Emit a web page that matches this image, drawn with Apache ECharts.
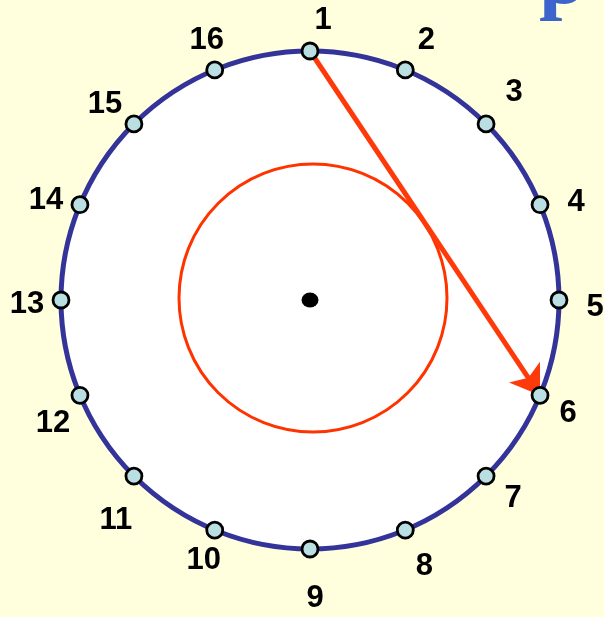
<!DOCTYPE html>
<html>
<head>
<meta charset="utf-8">
<script src="https://cdn.jsdelivr.net/npm/echarts@6/dist/echarts.min.js"></script>
<style>
  html, body { margin: 0; padding: 0; background: #ffffde; }
  #chart { width: 604px; height: 617px; }
</style>
</head>
<body>
<div id="chart"></div>
<script>
// 16 points on the circle, numbered clockwise from the top
const pointLabels = ['1','2','3','4','5','6','7','8','9','10','11','12','13','14','15','16']
const pointAngles = [0, 22.5, 45, 67.5, 90, 112.5, 135, 157.5, 180, 202.5, 225, 247.5, 270, 292.5, 315, 337.5]
// the arrow goes from point 1 to point 6
const arrowFrom = '1'
const arrowTo = '6'
const innerRatio = 0.54

// label placement around each point (px)
const labelOffsets = [
  [13, -31], [21, -30], [28, -31], [36, -2], [36, 7], [28, 18], [27, 22], [19, 36],
  [5, 49], [-11, 30], [-18, 44], [-27, 28], [-34, 4], [-34, -4], [-29, -19], [-8, -30]
]

const cx = 310, cy = 300, R = 249

const toXY = (label) => {
  const a = pointAngles[pointLabels.indexOf(label)] * Math.PI / 180
  return [Math.sin(a), Math.cos(a)]
}

const chart = echarts.init(document.getElementById('chart'))

const hiddenAngle = (idx, color, width) => ({
  polarIndex: idx,
  type: 'value',
  min: 0,
  max: 360,
  startAngle: 90,
  clockwise: true,
  z: 3,
  axisLine: { show: true, lineStyle: { color, width } },
  axisTick: { show: false },
  axisLabel: { show: false },
  splitLine: { show: false },
})

const hiddenRadius = (idx, fill) => ({
  polarIndex: idx,
  type: 'value',
  min: 0,
  max: 1,
  interval: 1,
  z: 1,
  axisLine: { show: false },
  axisTick: { show: false },
  axisLabel: { show: false },
  splitLine: { show: false },
  splitArea: { show: fill, areaStyle: { color: ['#ffffff', '#ffffff'] } },
})

const option = {
  backgroundColor: '#ffffde',
  animation: false,
  polar: [
    { center: [cx, cy], radius: R },
    { center: [cx + 3, cy - 2], radius: Math.round(R * innerRatio) },
  ],
  angleAxis: [hiddenAngle(0, '#333399', 5), hiddenAngle(1, '#ff3300', 3)],
  radiusAxis: [hiddenRadius(0, true), hiddenRadius(1, false)],
  grid: { left: cx - R, top: cy - R, width: 2 * R, height: 2 * R },
  xAxis: { type: 'value', min: -1, max: 1, show: false },
  yAxis: { type: 'value', min: -1, max: 1, show: false },
  graphic: [
    {
      type: 'text',
      left: 539,
      top: -61,
      style: {
        text: 'p',
        font: 'bold 84px "Liberation Serif", serif',
        fill: '#3c64cc',
      },
    },
  ],
  series: [
    {
      type: 'lines',
      coordinateSystem: 'cartesian2d',
      z: 4,
      symbol: ['none', 'arrow'],
      symbolSize: [22, 28],
      lineStyle: { color: '#ff3a0a', width: 5, opacity: 1 },
      data: [{ coords: [toXY(arrowFrom), toXY(arrowTo)] }],
    },
    {
      type: 'scatter',
      coordinateSystem: 'polar',
      polarIndex: 0,
      z: 5,
      symbol: 'circle',
      symbolSize: 16,
      itemStyle: { color: '#b9dfe3', borderColor: '#000000', borderWidth: 2.8, opacity: 1 },
      label: {
        show: true,
        position: 'inside',
        formatter: (p) => p.name,
        color: '#000000',
        fontFamily: '"Liberation Sans", Arial, sans-serif',
        fontWeight: 'bold',
        fontSize: 31,
      },
      data: pointLabels.map((name, i) => ({
        name,
        value: [1, pointAngles[i]],
        label: { offset: labelOffsets[i] },
      })),
    },
    {
      type: 'scatter',
      coordinateSystem: 'polar',
      polarIndex: 0,
      z: 5,
      symbol: 'circle',
      symbolSize: [17, 15],
      itemStyle: { color: '#000000', opacity: 1 },
      data: [[0, 0]],
    },
  ],
}

chart.setOption(option)
</script>
</body>
</html>
